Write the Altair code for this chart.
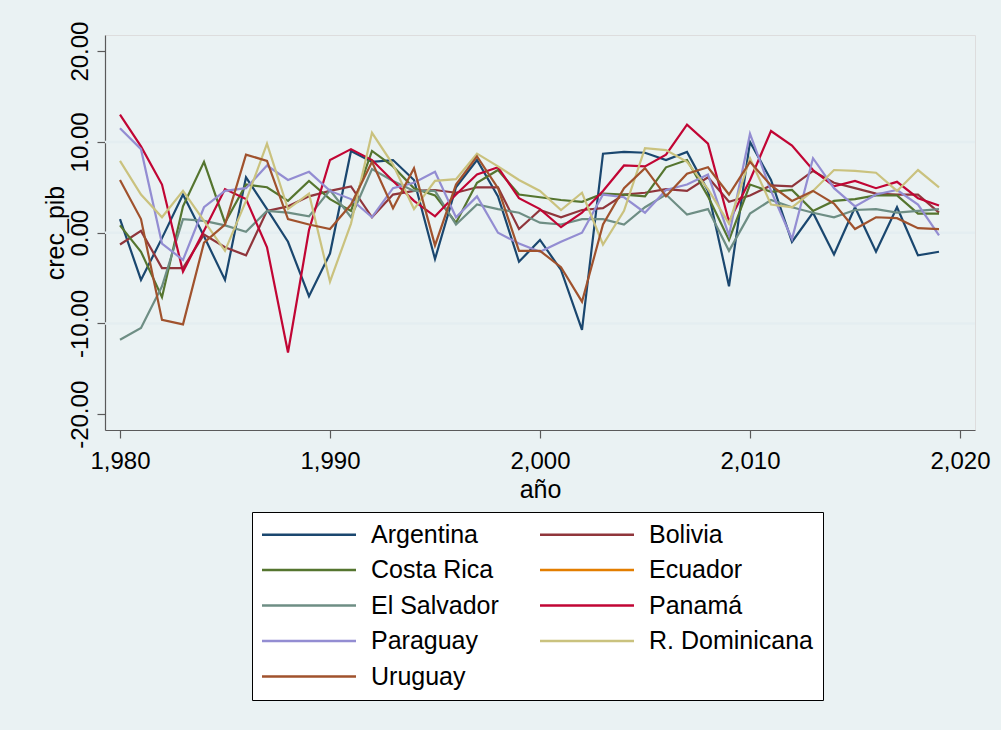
import altair as alt
import pandas as pd

years = list(range(1980, 2020))
countries = ["Argentina", "Bolivia", "Costa Rica", "Ecuador", "El Salvador",
             "Panamá", "Paraguay", "R. Dominicana", "Uruguay"]
colors = ["#1a476f", "#90353b", "#55752f", "#e37e00", "#6e8e84",
          "#c10534", "#938dd2", "#cac27e", "#a0522d"]

argentina = [1.5, -5.2, -0.6, 4.2, -0.4, -5.2, 6.1, 2.6, -1.0, -7.0,
             -2.3, 9.0, 7.8, 8.0, 5.8, -2.9, 5.0, 8.0, 4.0, -3.2,
             -0.8, -4.1, -10.7, 8.7, 8.9, 8.8, 8.0, 8.9, 4.6, -5.9,
             10.0, 5.8, -1.0, 2.2, -2.4, 2.8, -2.1, 2.8, -2.5, -2.1]
bolivia = [-1.3, 0.2, -3.9, -3.9, -0.2, -1.6, -2.5, 2.4, 2.9, 4.0,
           4.6, 5.1, 1.7, 4.2, 4.6, 4.7, 4.4, 5.0, 5.0, 0.4,
           2.5, 1.7, 2.5, 2.7, 4.2, 4.4, 4.8, 4.6, 6.1, 3.4,
           4.1, 5.2, 5.1, 6.8, 5.5, 4.9, 4.3, 4.2, 4.2, 2.2]
costa_rica = [0.8, -2.1, -7.1, 2.9, 7.8, 1.1, 5.3, 5.0, 3.5, 5.7,
              3.7, 2.4, 9.0, 7.3, 4.9, 4.1, 1.1, 5.5, 6.9, 4.2,
              3.9, 3.6, 3.4, 4.3, 4.2, 4.0, 7.2, 8.0, 4.0, -0.8,
              5.3, 4.5, 4.7, 2.4, 3.5, 3.7, 4.1, 4.1, 2.1, 2.1]
el_salvador = [-11.8, -10.5, -5.9, 1.5, 1.3, 0.8, 0.1, 2.4, 2.2, 1.8,
               4.7, 1.7, 7.0, 5.7, 4.6, 4.6, 0.9, 3.1, 2.6, 2.2,
               1.1, 0.9, 1.5, 1.5, 0.9, 2.8, 4.2, 2.0, 2.6, -2.0,
               2.1, 3.6, 2.8, 2.2, 1.7, 2.5, 2.6, 2.2, 2.4, 2.6]
panama = [13.0, 9.5, 5.3, -4.3, 0.2, 4.8, 3.7, -1.6, -13.2, 0.3,
          8.0, 9.2, 8.0, 5.7, 3.5, 1.8, 4.2, 6.4, 7.2, 3.8,
          2.6, 0.6, 2.2, 4.6, 7.4, 7.3, 8.6, 11.9, 9.8, 1.2,
          5.8, 11.2, 9.6, 6.9, 5.1, 5.7, 4.9, 5.6, 3.8, 3.0]
paraguay = [11.5, 9.2, -1.2, -3.0, 2.8, 4.6, 4.9, 7.4, 5.8, 6.7,
            4.6, 3.7, 1.7, 4.9, 5.5, 6.7, 1.7, 4.0, 0.0, -1.2,
            -2.1, -1.0, 0.0, 4.2, 3.9, 2.2, 4.7, 5.3, 6.4, -0.3,
            10.9, 4.6, -0.7, 8.2, 4.9, 2.9, 4.2, 4.7, 3.1, -0.3]
r_dominicana = [7.9, 4.2, 1.7, 4.6, 1.3, -2.0, 3.5, 9.8, 2.6, 4.3,
                -5.4, 1.0, 11.0, 7.5, 2.6, 5.7, 5.9, 8.7, 7.3, 5.8,
                4.6, 2.5, 4.4, -1.3, 2.4, 9.3, 9.1, 7.8, 4.8, 1.0,
                8.2, 3.1, 2.8, 4.6, 6.9, 6.8, 6.6, 4.6, 6.9, 5.0]
uruguay = [5.8, 1.5, -9.6, -10.1, -1.1, 0.9, 8.6, 7.9, 1.5, 0.9,
           0.4, 3.1, 7.8, 2.7, 7.1, -1.4, 5.3, 8.4, 4.9, -2.0,
           -2.0, -3.8, -7.6, 0.9, 4.9, 7.1, 4.0, 6.5, 7.2, 4.2,
           7.8, 5.2, 3.5, 4.6, 3.2, 0.4, 1.7, 1.6, 0.5, 0.4]

series = {
    "Argentina": argentina,
    "Bolivia": bolivia,
    "Costa Rica": costa_rica,
    "El Salvador": el_salvador,
    "Panamá": panama,
    "Paraguay": paraguay,
    "R. Dominicana": r_dominicana,
    "Uruguay": uruguay,
}

x_ticks = [1980, 1990, 2000, 2010, 2020]
y_ticks = [-20, -10, 0, 10, 20]
grid_values = [-10, 0, 10]

rows = [{"year": y, "country": c, "crec_pib": v}
        for c, vals in series.items() for y, v in zip(years, vals)]
df = pd.DataFrame(rows)

FONT = "Liberation Sans"
AXIS_COLOR = "#5a5a5a"

yscale = alt.Scale(domain=[-21.73, 21.77], nice=False, zero=False)
xscale = alt.Scale(domain=[1979.286, 2020.714], nice=False, zero=False)

y_axis = alt.Axis(values=y_ticks, title="crec_pib", grid=False,
                  labelExpr="replace(format(datum.value, '.2f'), '\u2212', '-')",
                  labelAngle=270, labelAlign="center", labelBaseline="bottom",
                  labelFont=FONT, labelFontSize=24, labelColor="black",
                  titleFont=FONT, titleFontSize=25, titleFontWeight="normal",
                  titleColor="black", titlePadding=0,
                  tickSize=8, tickColor=AXIS_COLOR, tickWidth=1.2,
                  domainColor=AXIS_COLOR, domainWidth=1.2,
                  labelPadding=5, labelFlush=False)

grid = alt.Chart(pd.DataFrame({"crec_pib": grid_values})).mark_rule(
    color="#e4eef1", strokeWidth=2.5
).encode(
    y=alt.Y("crec_pib:Q", scale=yscale, axis=y_axis)
)

lines = alt.Chart(df).mark_line(strokeWidth=2.2).encode(
    x=alt.X("year:Q", scale=xscale,
            axis=alt.Axis(values=x_ticks, format=",.0f", title="año", grid=False,
                          labelFont=FONT, labelFontSize=24, labelColor="black",
                          titleFont=FONT, titleFontSize=25, titleFontWeight="normal",
                          titleColor="black", titlePadding=4,
                          tickSize=8, tickColor=AXIS_COLOR, tickWidth=1.2,
                          domainColor=AXIS_COLOR, domainWidth=1.2,
                          labelPadding=11, labelFlush=False)),
    y=alt.Y("crec_pib:Q", scale=yscale, axis=y_axis),
    color=alt.Color("country:N",
                    scale=alt.Scale(domain=countries, range=colors),
                    legend=alt.Legend(title=None, orient="none", legendX=147, legendY=477,
                                      direction="horizontal",
                                      columns=2, fillColor="white", strokeColor="black",
                                      padding=10, symbolType="M-2.5,0H16.3", symbolSize=100,
                                      symbolStrokeWidth=2.5, labelFont=FONT,
                                      labelFontSize=25, labelColor="black",
                                      labelOffset=84, rowPadding=9.5, columnPadding=36,
                                      labelLimit=400)),
)

chart = alt.layer(grid, lines).properties(
    width=870, height=395,
    padding={"left": 105, "top": 35, "right": 26, "bottom": 300},
    autosize=alt.AutoSizeParams(type="none"),
).configure_view(strokeWidth=0, fill="white").configure(background="#eaf2f3")

chart.save("out.html", embed_options={"renderer": "svg", "actions": False})
